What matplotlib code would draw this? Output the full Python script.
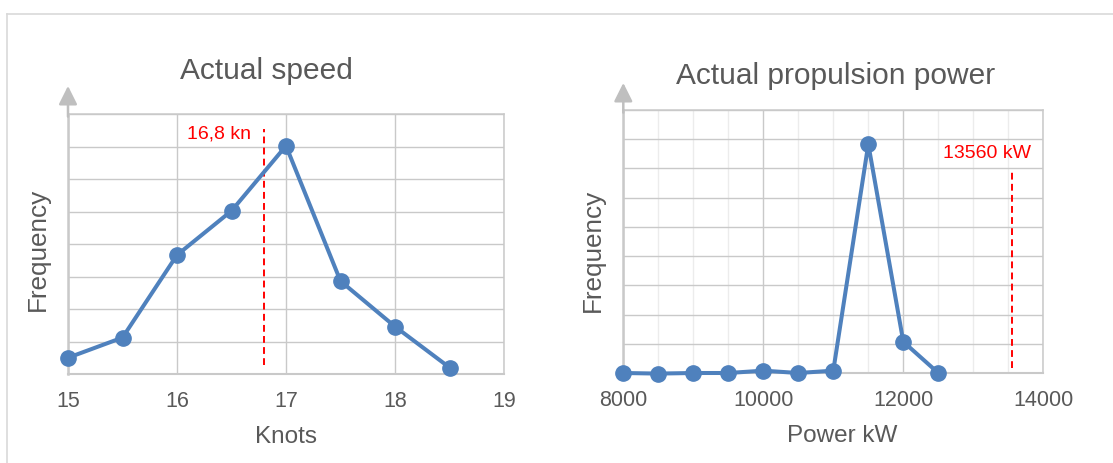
import matplotlib.pyplot as plt
from matplotlib.lines import Line2D
from matplotlib.ticker import MultipleLocator, NullFormatter

plt.rcParams['font.family'] = ['Liberation Sans', 'DejaVu Sans']

# speed distribution
knots = [15, 15.5, 16, 16.5, 17, 17.5, 18, 18.5]
speed_freq = [0.5, 1.12, 3.66, 5.02, 7.02, 2.86, 1.46, 0.2]
speed_ref = 16.8
speed_ref_label = '16,8 kn'

# propulsion power distribution
power_kw = [8000, 8500, 9000, 9500, 10000, 10500, 11000, 11500, 12000, 12500]
power_freq = [0.0, -0.02, 0.0, 0.0, 0.08, 0.0, 0.08, 7.83, 1.07, 0.0]
power_ref = 13560
power_ref_label = '13560 kW'

txt = '#595959'
grid_c = '#c9c9c9'
blue = '#4f81bd'

fig = plt.figure(figsize=(11.13, 4.63), dpi=100)

# thin outer frame
fig.add_artist(Line2D([7/1113, 1], [1 - 14/463, 1 - 14/463], color='#d9d9d9', lw=1.2))
fig.add_artist(Line2D([7/1113, 7/1113], [0, 1 - 14/463], color='#d9d9d9', lw=1.2))


def style(ax):
    ax.tick_params(length=0, labelsize=15.5, labelcolor=txt, pad=12)
    ax.yaxis.set_major_formatter(NullFormatter())
    for s in ax.spines.values():
        s.set_color(grid_c)
        s.set_linewidth(1.1)
    ax.spines['left'].set_linewidth(1.8)
    ax.spines['bottom'].set_linewidth(1.5)
    ax.grid(True, which='major', color=grid_c, lw=1.0)
    ax.set_axisbelow(True)


# left: speed
ax1 = fig.add_axes([68/1113, 1 - 374/463, 436/1113, 260/463])
style(ax1)
ax1.set_xlim(15, 19)
ax1.set_ylim(0, 8)
ax1.xaxis.set_major_locator(MultipleLocator(1))
ax1.yaxis.set_major_locator(MultipleLocator(1))
ax1.plot(knots, speed_freq, '-o', color=blue, lw=2.9, ms=11, clip_on=False, zorder=3)
ax1.plot([speed_ref, speed_ref], [0.28, 7.54], color='red', lw=1.4, ls=(0, (3.5, 2.2)))
ax1.text(16.68, 7.38, speed_ref_label, color='red', fontsize=14, ha='right', va='center')
ax1.text(0.454, 1.135, 'Actual speed', transform=ax1.transAxes, fontsize=21.5,
         color=txt, ha='center', va='baseline')
ax1.set_xlabel('Knots', fontsize=17.5, color=txt)
ax1.xaxis.set_label_coords(0.5, -0.2)
ax1.set_ylabel('Frequency', fontsize=18.8, color=txt)
ax1.yaxis.set_label_coords(-0.041, 0.48)
ax1.annotate('', xy=(0, 1.108), xytext=(0, 0.99), xycoords='axes fraction',
             arrowprops=dict(arrowstyle='-|>', color='#bfbfbf', lw=1.8,
                             mutation_scale=28, shrinkA=0, shrinkB=0))

# right: power
ax2 = fig.add_axes([623.3/1113, 1 - 373/463, 420/1113, 263/463])
style(ax2)
ax2.set_xlim(8000, 14000)
ax2.set_ylim(0, 9)
ax2.xaxis.set_major_locator(MultipleLocator(2000))
ax2.xaxis.set_minor_locator(MultipleLocator(500))
ax2.yaxis.set_major_locator(MultipleLocator(1))
ax2.tick_params(which='minor', length=0)
ax2.grid(True, which='minor', axis='x', color='#ececec', lw=1.0)
ax2.plot(power_kw, power_freq, '-o', color=blue, lw=2.9, ms=11, clip_on=False, zorder=3)
ax2.plot([power_ref, power_ref], [0.17, 6.89], color='red', lw=1.4, ls=(0, (3.5, 2.2)))
ax2.text(13190, 7.5, power_ref_label, color='red', fontsize=14, ha='center', va='center')
ax2.text(0.506, 1.10, 'Actual propulsion power', transform=ax2.transAxes, fontsize=21.5,
         color=txt, ha='center', va='baseline')
ax2.set_xlabel('Power kW', fontsize=17.5, color=txt)
ax2.xaxis.set_label_coords(0.52, -0.198)
ax2.set_ylabel('Frequency', fontsize=18.8, color=txt)
ax2.yaxis.set_label_coords(-0.0436, 0.465)
ax2.annotate('', xy=(0, 1.103), xytext=(0, 0.99), xycoords='axes fraction',
             arrowprops=dict(arrowstyle='-|>', color='#bfbfbf', lw=1.8,
                             mutation_scale=28, shrinkA=0, shrinkB=0))

fig.savefig('out.png', dpi=100)
